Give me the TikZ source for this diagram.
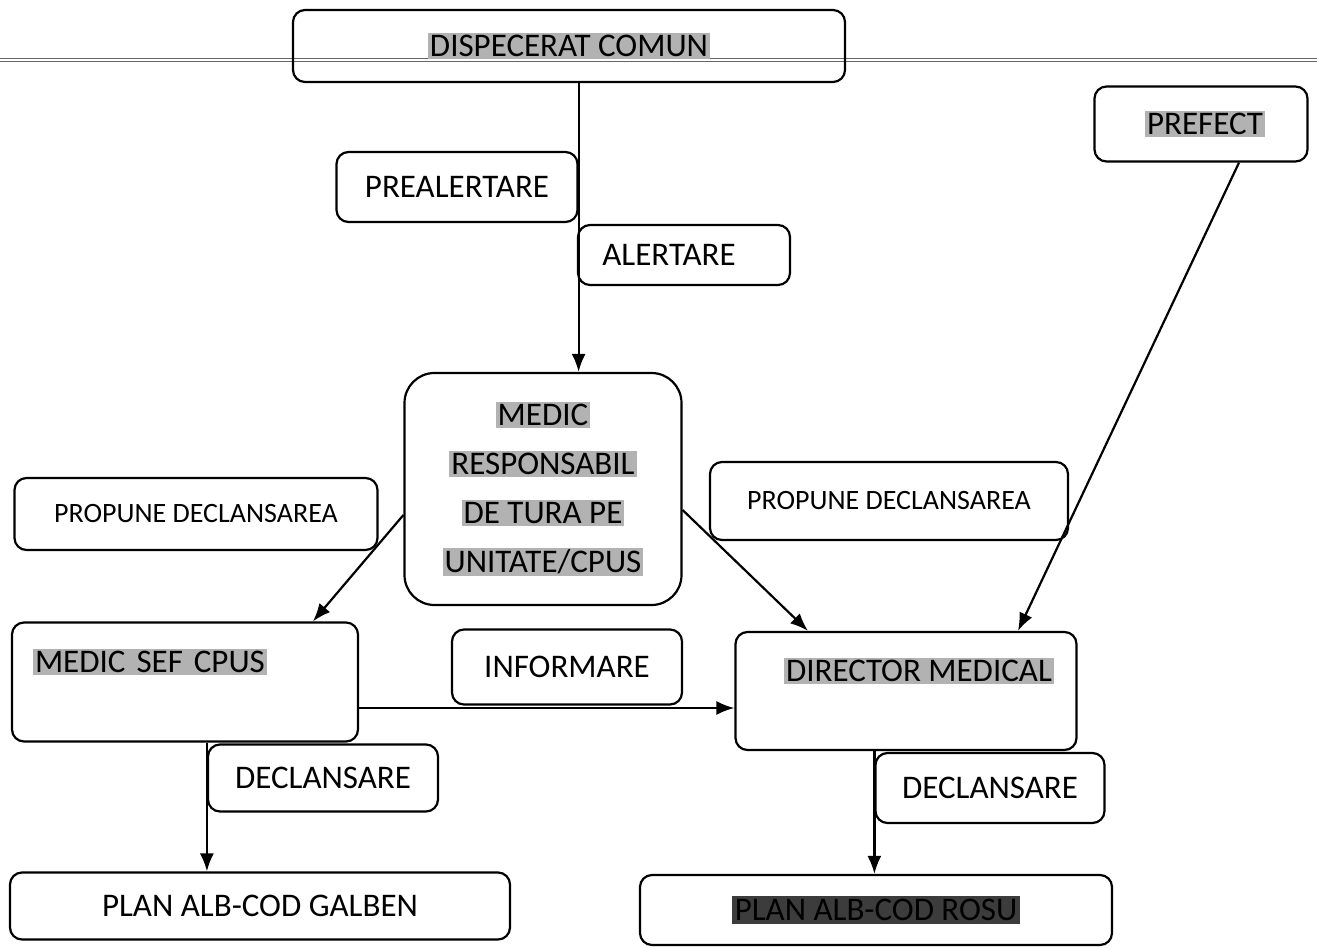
\documentclass[tikz,border=0pt]{standalone}
\usepackage{fontspec}
\setmainfont{Carlito}
\usetikzlibrary{arrows.meta}
\definecolor{hlgray}{HTML}{B2B2B2}
\definecolor{hldark}{HTML}{3C3C3C}
\newcommand{\hl}[1]{{\setlength{\fboxsep}{2pt}\colorbox{hlgray}{#1}}}
\newcommand{\hldk}[1]{{\setlength{\fboxsep}{3pt}\colorbox{hldark}{#1}}}
\begin{document}
\begin{tikzpicture}[
    x=1pt, y=-1pt,
    box/.style={rectangle, draw, line width=2.2pt, rounded corners=12pt, align=center, inner sep=0pt, font=\fontsize{33}{42}\selectfont},
    tag/.style={box, font=\fontsize{33}{40}\selectfont},
    smalltag/.style={box, font=\fontsize{28}{34}\selectfont},
    arrow/.style={-{Latex[length=18pt,width=14pt]}, line width=2.2pt}
]
\useasboundingbox (0,0) rectangle (1317,948);
\draw[double, double distance=2.5pt, line width=0.9pt, gray!80!black] (0,60) -- (1317,60);

\node[box] (disp) at (569,46) [minimum width=552pt, minimum height=72pt] {\hl{DISPECERAT COMUN}};
\node[box] (prefect) at (1201,124) [minimum width=213pt, minimum height=75pt] {\hspace*{8pt}\hl{PREFECT}};
\node[tag] (preal) at (457,187) [minimum width=241pt, minimum height=70pt] {PREALERTARE};
\node[tag] (alert) at (684,255) [minimum width=212pt, minimum height=60pt] {ALERTARE\hspace*{30pt}};
\node[box, rounded corners=30pt, font=\fontsize{33}{49}\selectfont] (medic) at (543,489) [minimum width=277pt, minimum height=232pt]
    {\hl{MEDIC}\\\hl{RESPONSABIL}\\\hl{DE TURA PE}\\\hl{UNITATE/CPUS}};
\node[smalltag] (propl) at (196,514) [minimum width=363pt, minimum height=72pt] {PROPUNE DECLANSAREA};
\node[smalltag] (propr) at (889,501) [minimum width=358pt, minimum height=78pt] {PROPUNE DECLANSAREA};
\node[box, align=left, text width=304pt] (medsef) at (185,682) [minimum width=346pt, minimum height=119pt] {\hl{MEDIC SEF CPUS}\\\mbox{}};
\node[tag] (inform) at (567,667) [minimum width=230pt, minimum height=75pt] {INFORMARE};
\node[box] (director) at (906,691) [minimum width=341pt, minimum height=118pt] {\hspace*{26pt}\hl{DIRECTOR MEDICAL}\\\mbox{}};
\node[tag] (decll) at (323,778) [minimum width=230pt, minimum height=67pt] {DECLANSARE};
\node[tag] (declr) at (990,788) [minimum width=229pt, minimum height=70pt] {DECLANSARE};
\node[tag] (galben) at (260,906) [minimum width=500pt, minimum height=67pt] {PLAN ALB-COD GALBEN};
\node[box] (rosu) at (876,910) [minimum width=472pt, minimum height=70pt] {\hldk{PLAN ALB-COD ROSU}};

\draw[arrow] (disp.south -| preal.east) -- (medic.north -| preal.east);
\draw[arrow] ([xshift=38pt]prefect.south) -- ([xshift=112pt]director.north);
\draw[arrow] ([yshift=-26pt]medic.west) -- ([xshift=128pt]medsef.north);
\draw[arrow] ([yshift=-21pt]medic.east) -- ([xshift=-98pt]director.north);
\draw[arrow] ([yshift=-26pt]medsef.east) -- ([yshift=-26pt]medsef.east -| director.west);
\draw[arrow] (medsef.south -| decll.west) -- (galben.north -| decll.west);
\draw[arrow] (director.south -| declr.west) -- (rosu.north -| declr.west);
\end{tikzpicture}
\end{document}
